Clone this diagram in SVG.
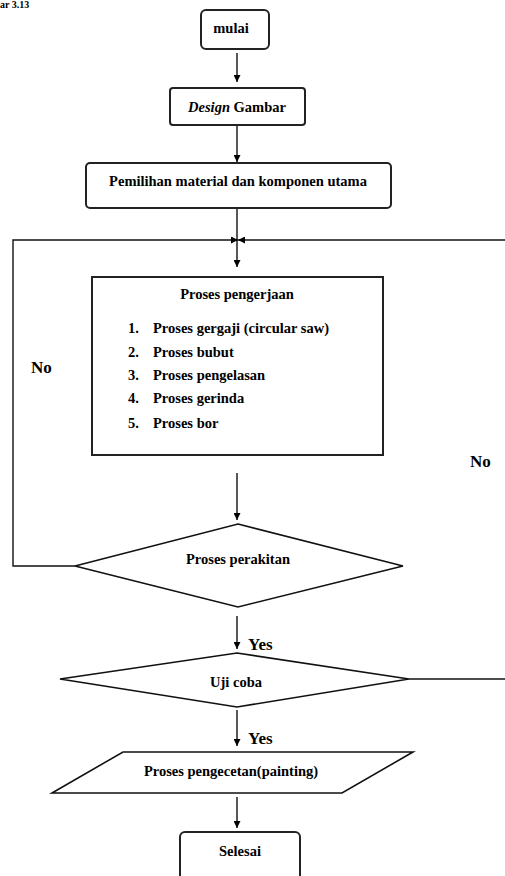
<svg xmlns="http://www.w3.org/2000/svg" width="505" height="876" viewBox="0 0 505 876">
<style>
.box{fill:#fff;stroke:#222;stroke-width:2}
.dia{fill:#fff;stroke:#111;stroke-width:1.6}
.ln{fill:none;stroke:#111;stroke-width:1.4}
.t{font-family:"Liberation Serif","Times New Roman",serif;font-weight:bold;font-size:14.5px;fill:#000}
.m{text-anchor:middle}
.lbl{font-family:"Liberation Serif","Times New Roman",serif;font-weight:bold;font-size:17px;fill:#000}
</style>
<defs>
<marker id="ah" viewBox="0 0 10 10" refX="10" refY="5" markerWidth="7" markerHeight="7" markerUnits="userSpaceOnUse" orient="auto">
<path d="M0,0 L10,5 L0,10 z" fill="#000"/>
</marker>
</defs>
<rect width="505" height="876" fill="#fff"/>
<text x="0" y="8" font-family="Liberation Serif, Times New Roman, serif" font-weight="bold" font-size="10" fill="#000">ar 3.13</text>

<g id="connectors">
<line class="ln" x1="237" y1="53" x2="237" y2="82" marker-end="url(#ah)"/>
<line class="ln" x1="237" y1="126" x2="237" y2="162" marker-end="url(#ah)"/>
<line class="ln" x1="237" y1="209" x2="237" y2="267" marker-end="url(#ah)"/>
<polyline class="ln" points="75,566 13,566 13,240 238,240" marker-end="url(#ah)"/>
<line class="ln" x1="505" y1="240" x2="238" y2="240" marker-end="url(#ah)"/>
<line class="ln" x1="237" y1="473" x2="237" y2="520" marker-end="url(#ah)"/>
<line class="ln" x1="237" y1="616" x2="237" y2="649" marker-end="url(#ah)"/>
<line class="ln" x1="409" y1="679" x2="505" y2="679"/>
<line class="ln" x1="237" y1="710" x2="237" y2="746" marker-end="url(#ah)"/>
<line class="ln" x1="237" y1="797" x2="237" y2="828" marker-end="url(#ah)"/>
<text class="lbl" x="31" y="373">No</text>
<text class="lbl" x="470" y="467">No</text>
<text class="lbl" x="248" y="650">Yes</text>
<text class="lbl" x="248" y="744">Yes</text>
</g>

<g id="mulai">
<rect class="box" x="201" y="10" width="68" height="39" rx="5"/>
<text class="t m" x="231" y="33">mulai</text>
</g>

<g id="design">
<rect class="box" x="170" y="88" width="135" height="37" rx="3"/>
<text class="t m" x="237" y="112"><tspan font-style="italic">Design</tspan> Gambar</text>
</g>

<g id="pemilihan">
<rect class="box" x="86" y="163" width="305" height="45" rx="4"/>
<text class="t m" x="238" y="186">Pemilihan material dan komponen utama</text>
</g>

<g id="pengerjaan">
<rect class="box" x="92" y="277" width="291" height="178"/>
<text class="t m" x="237" y="299">Proses pengerjaan</text>
<text class="t" x="128" y="333">1.</text><text class="t" x="153" y="333">Proses gergaji (circular saw)</text>
<text class="t" x="128" y="357">2.</text><text class="t" x="153" y="357">Proses bubut</text>
<text class="t" x="128" y="380">3.</text><text class="t" x="153" y="380">Proses pengelasan</text>
<text class="t" x="128" y="403">4.</text><text class="t" x="153" y="403">Proses gerinda</text>
<text class="t" x="128" y="428">5.</text><text class="t" x="153" y="428">Proses bor</text>
</g>

<g id="perakitan">
<polygon class="dia" points="238,524 403,566 238,607 75,566"/>
<text class="t m" x="238" y="564">Proses perakitan</text>
</g>

<g id="ujicoba">
<polygon class="dia" points="237,653 409,679 237,707 60,679"/>
<text class="t m" x="236" y="687">Uji coba</text>
</g>

<g id="pengecetan">
<polygon class="dia" points="123,752 413,752 342,793 52,793"/>
<text class="t m" x="231" y="776">Proses pengecetan(painting)</text>
</g>

<g id="selesai">
<rect class="box" x="180" y="832" width="120" height="48" rx="5"/>
<text class="t m" x="240" y="856">Selesai</text>
</g>
</svg>
